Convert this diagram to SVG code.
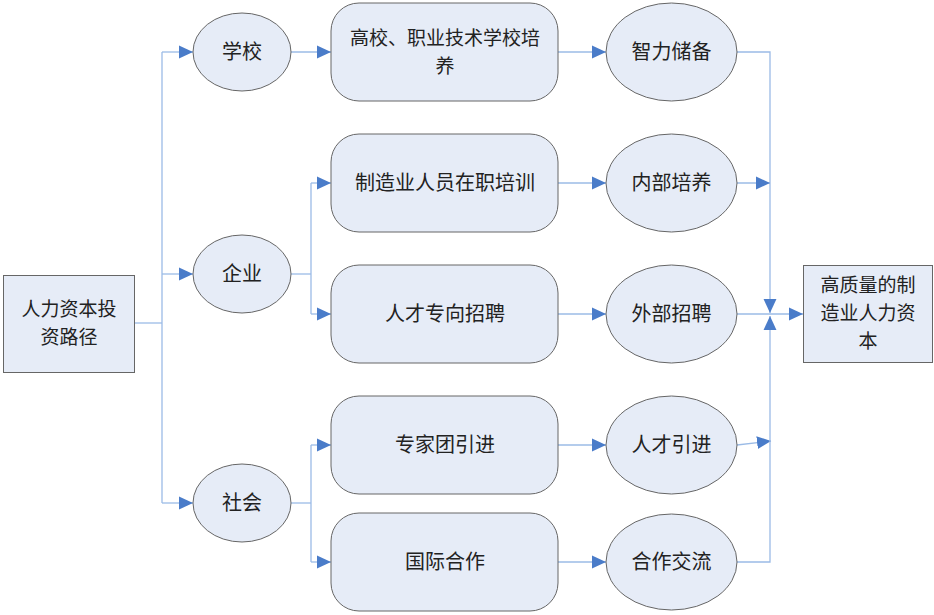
<svg xmlns="http://www.w3.org/2000/svg" width="934" height="615" viewBox="0 0 934 615">
<style>
.n{fill:#E6ECF7;stroke:#666;stroke-width:1}
.t{font-family:"Noto Sans CJK SC","Noto Sans",sans-serif;font-size:20px;fill:#222;text-anchor:middle}
.m{font-size:19px}
.c{fill:none;stroke:#9BBBE6;stroke-width:1.3}
</style>
<defs>
<marker id="a" markerUnits="userSpaceOnUse" markerWidth="14" markerHeight="14" viewBox="0 0 13 12" refX="13" refY="6" orient="auto">
<path d="M0,0 L13,6 L0,12 Z" fill="#4A7CC9"/>
</marker>
</defs>
<rect width="934" height="615" fill="#fff"/>
<g id="connectors">
<path class="c" d="M134,323 H162"/>
<path class="c" d="M162,52 V503"/>
<path class="c" d="M162,52 H193" marker-end="url(#a)"/>
<path class="c" d="M162,274 H193" marker-end="url(#a)"/>
<path class="c" d="M162,503 H193" marker-end="url(#a)"/>
<path class="c" d="M291,52 H331" marker-end="url(#a)"/>
<path class="c" d="M291,274 H311"/>
<path class="c" d="M311,183 V314"/>
<path class="c" d="M311,183 H331" marker-end="url(#a)"/>
<path class="c" d="M311,314 H331" marker-end="url(#a)"/>
<path class="c" d="M291,503 H311"/>
<path class="c" d="M311,445 V562"/>
<path class="c" d="M311,445 H331" marker-end="url(#a)"/>
<path class="c" d="M311,562 H331" marker-end="url(#a)"/>
<path class="c" d="M558,52 H606" marker-end="url(#a)"/>
<path class="c" d="M558,183 H606" marker-end="url(#a)"/>
<path class="c" d="M558,314 H606" marker-end="url(#a)"/>
<path class="c" d="M558,445 H606" marker-end="url(#a)"/>
<path class="c" d="M558,562 H606" marker-end="url(#a)"/>
<path class="c" d="M737,52 H770 V313" marker-end="url(#a)"/>
<path class="c" d="M737,183 H770" marker-end="url(#a)"/>
<path class="c" d="M737,314 H803" marker-end="url(#a)"/>
<path class="c" d="M737,445 L771,441" marker-end="url(#a)"/>
<path class="c" d="M737,562 H770 V316" marker-end="url(#a)"/>
</g>
<g id="n_start"><rect class="n" x="3.5" y="275.5" width="131" height="97"/><text class="t m" x="69" y="316">人力资本投</text><text class="t m" x="69" y="344">资路径</text></g>
<g id="n_school"><ellipse class="n" cx="242" cy="52" rx="49" ry="39"/><text class="t" x="242" y="59">学校</text></g>
<g id="n_enterprise"><ellipse class="n" cx="242" cy="274" rx="49" ry="39"/><text class="t" x="242" y="281">企业</text></g>
<g id="n_society"><ellipse class="n" cx="242" cy="503" rx="49" ry="39"/><text class="t" x="242" y="510">社会</text></g>
<g id="n_r1"><rect class="n" x="331" y="3" width="227" height="98" rx="28"/><text class="t m" x="445" y="45">高校、职业技术学校培</text><text class="t m" x="445" y="73">养</text></g>
<g id="n_r2"><rect class="n" x="331" y="134" width="227" height="98" rx="28"/><text class="t" x="445" y="190">制造业人员在职培训</text></g>
<g id="n_r3"><rect class="n" x="331" y="265" width="227" height="98" rx="28"/><text class="t" x="445" y="321">人才专向招聘</text></g>
<g id="n_r4"><rect class="n" x="331" y="396" width="227" height="98" rx="28"/><text class="t" x="445" y="452">专家团引进</text></g>
<g id="n_r5"><rect class="n" x="331" y="513" width="227" height="98" rx="28"/><text class="t" x="445" y="569">国际合作</text></g>
<g id="n_e1"><ellipse class="n" cx="671.5" cy="52" rx="65.5" ry="49"/><text class="t" x="671.5" y="59">智力储备</text></g>
<g id="n_e2"><ellipse class="n" cx="671.5" cy="183" rx="65.5" ry="49"/><text class="t" x="671.5" y="190">内部培养</text></g>
<g id="n_e3"><ellipse class="n" cx="671.5" cy="314" rx="65.5" ry="49"/><text class="t" x="671.5" y="321">外部招聘</text></g>
<g id="n_e4"><ellipse class="n" cx="671.5" cy="445" rx="65.5" ry="49"/><text class="t" x="671.5" y="452">人才引进</text></g>
<g id="n_e5"><ellipse class="n" cx="671.5" cy="562" rx="65.5" ry="48"/><text class="t" x="671.5" y="569">合作交流</text></g>
<g id="n_end"><rect class="n" x="803.5" y="265.5" width="129" height="97"/><text class="t m" x="868" y="292">高质量的制</text><text class="t m" x="868" y="320">造业人力资</text><text class="t m" x="868" y="348">本</text></g>
</svg>
